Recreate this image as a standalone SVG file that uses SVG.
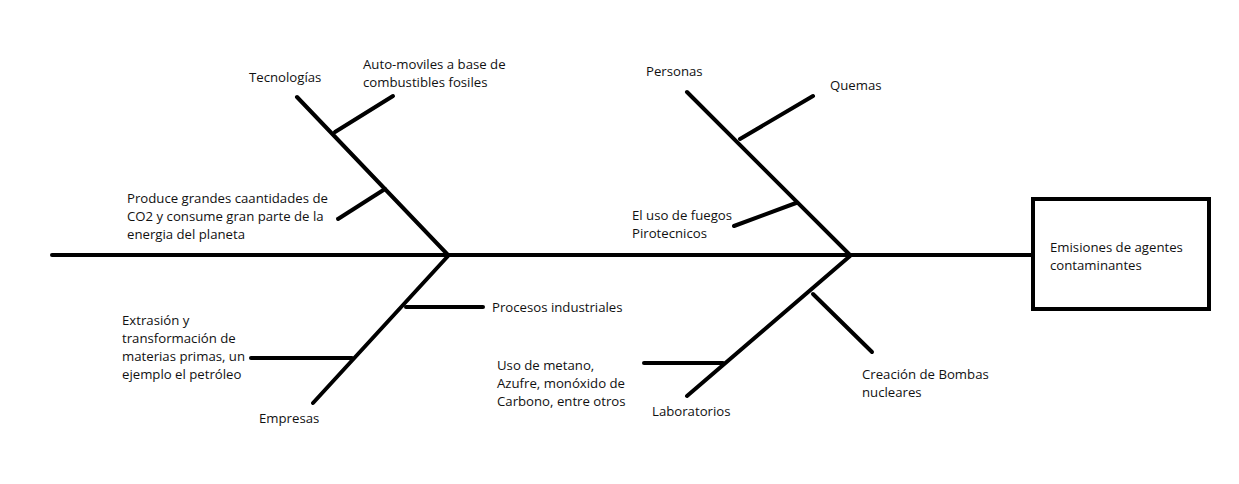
<svg xmlns="http://www.w3.org/2000/svg" width="1239" height="484" viewBox="0 0 1239 484">
<style>
.l{stroke:#000;stroke-width:4;stroke-linecap:round;fill:none}
.t{font-family:"Open Sans","Noto Sans",sans-serif;font-size:13.2px;fill:#111}
</style>
<rect width="1239" height="484" fill="#fff"/>
<g id="connectors">
<line class="l" x1="52" y1="255" x2="1033" y2="255"/>
<line class="l" x1="297" y1="97" x2="448" y2="255"/>
<line class="l" x1="335" y1="132" x2="393" y2="96"/>
<line class="l" x1="338" y1="219" x2="385" y2="189"/>
<line class="l" x1="448" y1="256" x2="313" y2="403"/>
<line class="l" x1="406" y1="307" x2="483" y2="307"/>
<line class="l" x1="251" y1="358" x2="352" y2="358"/>
<line class="l" x1="687" y1="92" x2="850" y2="255"/>
<line class="l" x1="740" y1="139" x2="813" y2="96"/>
<line class="l" x1="734" y1="226" x2="796" y2="203"/>
<line class="l" x1="850" y1="256" x2="687" y2="396"/>
<line class="l" x1="644" y1="363" x2="723" y2="363"/>
<line class="l" x1="813" y1="294" x2="872" y2="352"/>
</g>
<g id="effect">
<rect x="1033" y="199" width="176" height="110" fill="#fff" stroke="#000" stroke-width="4"/>
<text class="t" x="1050" y="252">Emisiones de agentes</text>
<text class="t" x="1050" y="270">contaminantes</text>
</g>
<g id="tecnologias">
<text class="t" x="249" y="82">Tecnologías</text>
</g>
<g id="automoviles">
<text class="t" x="363" y="69">Auto-moviles a base de</text>
<text class="t" x="363" y="87">combustibles fosiles</text>
</g>
<g id="produce">
<text class="t" x="127" y="203">Produce grandes caantidades de</text>
<text class="t" x="127" y="221">CO2 y consume gran parte de la</text>
<text class="t" x="127" y="239">energia del planeta</text>
</g>
<g id="procesos">
<text class="t" x="492" y="312">Procesos industriales</text>
</g>
<g id="extrasion">
<text class="t" x="122" y="325">Extrasión y</text>
<text class="t" x="122" y="343">transformación de</text>
<text class="t" x="122" y="361">materias primas, un</text>
<text class="t" x="122" y="379">ejemplo el petróleo</text>
</g>
<g id="empresas">
<text class="t" x="259" y="423">Empresas</text>
</g>
<g id="personas">
<text class="t" x="646" y="76">Personas</text>
</g>
<g id="quemas">
<text class="t" x="830" y="90">Quemas</text>
</g>
<g id="fuegos">
<text class="t" x="632" y="220">El uso de fuegos</text>
<text class="t" x="632" y="238">Pirotecnicos</text>
</g>
<g id="metano">
<text class="t" x="497" y="370">Uso de metano,</text>
<text class="t" x="497" y="388">Azufre, monóxido de</text>
<text class="t" x="497" y="406">Carbono, entre otros</text>
</g>
<g id="laboratorios">
<text class="t" x="652" y="416">Laboratorios</text>
</g>
<g id="bombas">
<text class="t" x="862" y="379">Creación de Bombas</text>
<text class="t" x="862" y="397">nucleares</text>
</g>
</svg>
